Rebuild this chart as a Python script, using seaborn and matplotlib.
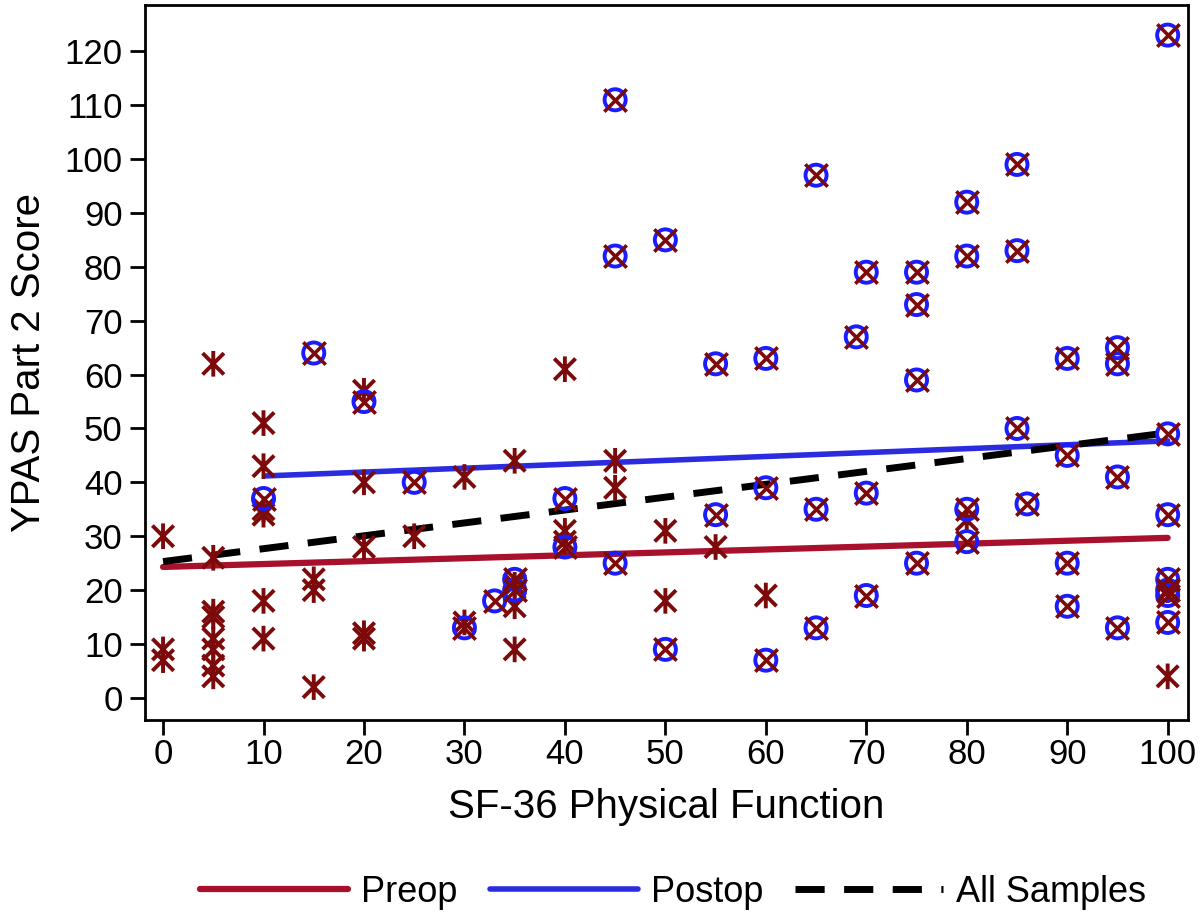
import numpy as np
import pandas as pd
import matplotlib
matplotlib.use("Agg")
import matplotlib.pyplot as plt
from matplotlib.path import Path
from matplotlib.lines import Line2D
import seaborn as sns

# ---------------- data ----------------
preop_x = [0, 0, 0,
           5, 5, 5, 5, 5, 5, 5, 5,
           10, 10, 10, 10, 10, 10,
           15, 15, 15,
           20, 20, 20, 20, 20,
           25,
           30, 30,
           35, 35, 35, 35,
           40, 40, 40,
           45, 45,
           50, 50,
           55,
           60,
           80,
           100, 100]
preop_y = [30, 9, 7,
           62, 26, 16, 15, 11, 9, 6, 4,
           51, 43, 35, 34, 18, 11,
           22, 20, 2,
           57, 40, 28, 12, 11,
           30,
           41, 14,
           44, 21, 17, 9,
           61, 31, 29,
           44, 39,
           31, 18,
           28,
           19,
           33,
           20, 4]

postop_x = [10, 15, 20, 25, 30, 33,
            35, 35,
            40, 40,
            45, 45, 45,
            50, 50,
            55, 55,
            60, 60, 60,
            65, 65, 65,
            69,
            70, 70, 70,
            75, 75, 75, 75,
            80, 80, 80, 80,
            85, 85, 85,
            86,
            90, 90, 90, 90,
            95, 95, 95, 95,
            100, 100, 100, 100, 100, 100, 100]
postop_y = [37, 64, 55, 40, 13, 18,
            22, 20,
            37, 28,
            111, 82, 25,
            85, 9,
            62, 34,
            63, 39, 7,
            97, 35, 13,
            67,
            79, 38, 19,
            79, 73, 59, 25,
            92, 82, 35, 29,
            99, 83, 50,
            36,
            63, 45, 25, 17,
            65, 62, 41, 13,
            123, 49, 34, 22, 20, 19, 14]

# fitted lines, end points
fit_preop_x = [0, 100]
fit_preop_y = [24.3, 29.7]
fit_postop_x = [10.3, 100]
fit_postop_y = [41.2, 47.7]
fit_all_x = [0, 100]
fit_all_y = [25.3, 49.2]

x_ticks = list(range(0, 101, 10))
y_ticks = list(range(0, 121, 10))
legend_labels = ["Preop", "Postop", "All Samples"]
x_label = "SF-36 Physical Function"
y_label = "YPAS Part 2 Score"

# ---------------- styling ----------------
sns.set_style("white")
plt.rcParams["font.family"] = ["Liberation Sans", "DejaVu Sans"]
for k in ["text.color", "axes.labelcolor", "xtick.color", "ytick.color"]:
    plt.rcParams[k] = "black"

DARKRED = "#7d0a0a"
PRE_LINE = "#a8102c"
BLUE_MK = "#1c1cff"
BLUE_LINE = "#2b2be0"

asterisk = Path([(-1, -1), (1, 1), (-1, 1), (1, -1), (0, -1.2), (0, 1.2)],
                [Path.MOVETO, Path.LINETO, Path.MOVETO, Path.LINETO, Path.MOVETO, Path.LINETO])

fig = plt.figure(figsize=(12, 9.16), dpi=100)
ax = fig.add_axes([0.1208, 0.214, 0.869, 0.7806])

pre_df = pd.DataFrame({"x": preop_x, "y": preop_y})
post_df = pd.DataFrame({"x": postop_x, "y": postop_y})

# fit lines (under markers)
sns.lineplot(x=fit_preop_x, y=fit_preop_y, ax=ax, color=PRE_LINE, lw=4.5, zorder=2)
sns.lineplot(x=fit_postop_x, y=fit_postop_y, ax=ax, color=BLUE_LINE, lw=4.0, zorder=2)
sns.lineplot(x=fit_all_x, y=fit_all_y, ax=ax, color="black", lw=5.0, zorder=2,
             dashes=False, linestyle=(0, (4.2, 2.8)))

# markers
sns.scatterplot(data=pre_df, x="x", y="y", ax=ax, marker=asterisk, s=340,
                facecolor="none", edgecolor=DARKRED, linewidth=2.8, zorder=3)
sns.scatterplot(data=post_df, x="x", y="y", ax=ax, marker="o", s=230,
                facecolor="none", edgecolor=BLUE_MK, linewidth=2.8, zorder=4)
sns.scatterplot(data=post_df, x="x", y="y", ax=ax, marker="x", s=260,
                color=DARKRED, linewidth=2.6, zorder=5)

ax.set_xlim(-1.8, 102.0)
ax.set_ylim(-4.1, 128.6)
ax.set_xticks(x_ticks)
ax.set_yticks(y_ticks)
ax.tick_params(axis="both", direction="out", length=11, width=2, color="black",
               labelsize=25, bottom=True, left=True)
ax.tick_params(axis="x", pad=2)
ax.tick_params(axis="y", pad=5)
for sp in ax.spines.values():
    sp.set_color("black")
    sp.set_linewidth(2)

ax.set_xlabel(x_label, fontsize=29, labelpad=12)
ax.set_ylabel(y_label, fontsize=29, labelpad=12)

handles = [Line2D([], [], color=PRE_LINE, lw=4.5),
           Line2D([], [], color=BLUE_LINE, lw=4.0),
           Line2D([], [], color="black", lw=5.0, linestyle=(0, (4.2, 2.8)))]
fig.legend(handles, legend_labels, loc="center", bbox_to_anchor=(0.561, 0.026),
           ncol=3, frameon=False, handlelength=4.1, handletextpad=0.35,
           columnspacing=0.9, prop={"size": 26})

fig.savefig("out.png", dpi=100)
